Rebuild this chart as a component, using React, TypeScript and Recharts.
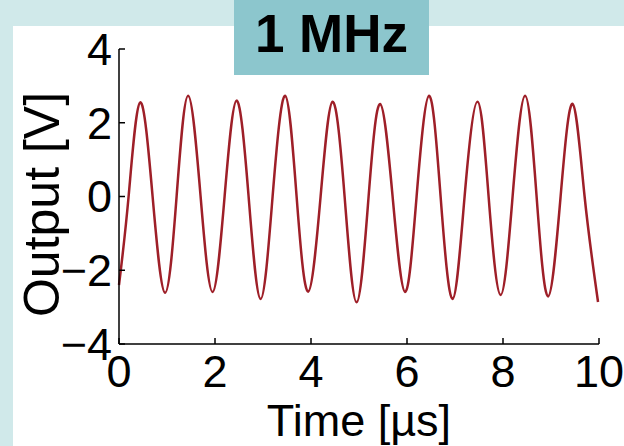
import React from 'react';
import { Line, LineChart, XAxis, YAxis } from 'recharts';

// time in µs, output in V (peaks, troughs and zero crossings)
const times = [
    0, 0.2, 0.44, 0.7, 0.96, 1.2, 1.44, 1.7, 1.95, 2.2, 2.45, 2.7, 2.95, 3.2, 3.46, 3.7, 3.94, 4.2, 4.45, 4.7,
    4.95, 5.2, 5.44, 5.7, 5.96, 6.2, 6.46, 6.7, 6.95, 7.2, 7.47, 7.7, 7.95, 8.2, 8.46, 8.7, 8.94, 9.2, 9.45, 9.7,
    9.98,
];
const outputs = [
    -2.4, 0, 2.55, 0, -2.61, 0, 2.73, 0, -2.59, 0, 2.6, 0, -2.78, 0, 2.73, 0, -2.58, 0, 2.57, 0,
    -2.87, 0, 2.51, 0, -2.59, 0, 2.73, 0, -2.78, 0, 2.57, 0, -2.67, 0, 2.73, 0, -2.71, 0, 2.51, 0,
    -2.86,
];
const xTicks = [0, 2, 4, 6, 8, 10];
const yTicks = [-4, -2, 0, 2, 4];

const data = times.map((t, i) => ({ t, v: outputs[i] }));

const font = '"Liberation Sans", Arial, sans-serif';
const tickStyle = { fill: '#000', fontSize: 45, fontFamily: font };
const axisLine = { stroke: '#000', strokeWidth: 1.5 };
const minus = (v: number) => (v < 0 ? '\u2212' + Math.abs(v) : String(v));

export default function App() {
    return (
        <div style={{ position: 'fixed', left: 0, top: 0, width: 624, height: 446, background: '#d0e9ea', overflow: 'hidden' }}>
            <div style={{ position: 'absolute', left: 13, top: 26, right: 0, bottom: 0, background: '#fff' }} />
            <LineChart
                width={624}
                height={446}
                data={data}
                margin={{ top: 49, right: 25, bottom: 2, left: 19 }}
                style={{ position: 'absolute', left: 0, top: 0 }}
            >
                <XAxis
                    xAxisId="bottom"
                    dataKey="t"
                    type="number"
                    domain={[0, 10]}
                    ticks={xTicks}
                    height={100}
                    tickSize={-6}
                    tickMargin={17}
                    axisLine={axisLine}
                    tickLine={axisLine}
                    tick={tickStyle}
                    interval={0}
                    label={{ value: 'Time [µs]', position: 'insideBottom', offset: 8, fill: '#000', fontSize: 45, fontFamily: font }}
                />
                <XAxis
                    xAxisId="top"
                    orientation="top"
                    dataKey="t"
                    type="number"
                    domain={[0, 10]}
                    ticks={xTicks}
                    height={0}
                    tickSize={-6}
                    axisLine={axisLine}
                    tickLine={axisLine}
                    tick={false}
                />
                <YAxis
                    yAxisId="left"
                    type="number"
                    domain={[-4, 4]}
                    ticks={yTicks}
                    width={100}
                    tickSize={-6}
                    tickMargin={13}
                    tickFormatter={minus}
                    axisLine={axisLine}
                    tickLine={axisLine}
                    tick={tickStyle}
                    interval={0}
                    label={{ value: 'Output [V]', angle: -90, position: 'center', dx: -28, dy: 8, fill: '#000', fontSize: 50, fontFamily: font }}
                />
                <YAxis
                    yAxisId="right"
                    orientation="right"
                    type="number"
                    domain={[-4, 4]}
                    ticks={yTicks}
                    width={0}
                    tickSize={-6}
                    axisLine={axisLine}
                    tickLine={axisLine}
                    tick={false}
                />
                <Line
                    xAxisId="bottom"
                    yAxisId="left"
                    type="natural"
                    dataKey="v"
                    stroke="#9e1f28"
                    strokeWidth={2.5}
                    dot={false}
                    isAnimationActive={false}
                />
            </LineChart>
            <div
                style={{
                    position: 'absolute',
                    left: 234,
                    top: 0,
                    width: 195,
                    height: 75,
                    background: '#8cc6cd',
                    color: '#000',
                    fontFamily: font,
                    fontWeight: 'bold',
                    fontSize: 53,
                    lineHeight: '67px',
                    textAlign: 'center',
                }}
            >
                1 MHz
            </div>
        </div>
    );
}
